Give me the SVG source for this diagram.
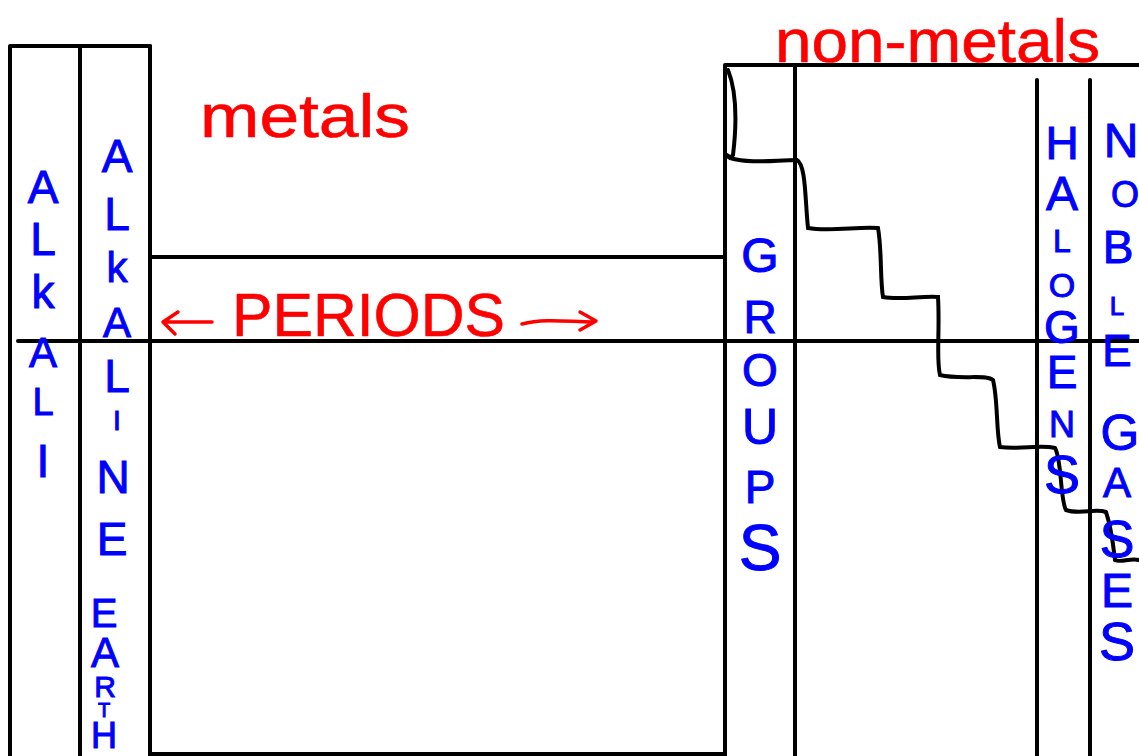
<svg xmlns="http://www.w3.org/2000/svg" width="1139" height="756" viewBox="0 0 1139 756">
<style>
.ln{stroke:#000;stroke-width:4;fill:none;stroke-linecap:round}
.bl{fill:#0000ff;stroke:#0000ff;stroke-width:1;font-family:"Liberation Sans","DejaVu Sans",sans-serif;font-size:46px;text-anchor:middle}
.rd{fill:#ff0000;stroke:#ff0000;stroke-width:0.6;font-family:"Liberation Sans","DejaVu Sans",sans-serif}
.ar{stroke:#ff0000;stroke-width:3.5;fill:none;stroke-linecap:round;stroke-linejoin:round}
</style>
<rect width="1139" height="756" fill="#fff"/>
<g id="grid">
<path class="ln" d="M10 46 H150 M10 46 V756 M80 46 V756"/>
<path class="ln" d="M150 46 V756" stroke-width="5"/>
<path class="ln" d="M150 257 H725 M18 341 H1139 M150 754 H725"/>
<path class="ln" d="M725 65 V756 M725 65 H1139 M795 65 V756 M1037 80 V756 M1090 80 V756"/>
</g>
<g id="connectors">
<path class="ln" stroke-width="3.5" d="M728 70 C738 95 736 130 733 155 C728 162 724 150 730 158 C750 164 775 160 797 160 C806 165 805 200 808 228 C830 232 860 226 878 228 C882 250 880 280 883 297 C900 300 920 296 938 297 C940 330 936 360 940 375 C960 380 985 374 993 380 C998 400 996 430 1000 447 C1020 450 1040 444 1055 448 C1062 460 1060 500 1066 510 C1080 515 1095 508 1106 512 C1112 530 1113 545 1115 560 C1120 563 1130 558 1139 560"/>
</g>
<g id="alkali">
<text class="bl"><tspan x="43" y="203">A</tspan><tspan x="43" y="255">L</tspan><tspan x="43" y="308">k</tspan><tspan x="43" y="367" font-size="42">A</tspan><tspan x="43" y="415" font-size="38">L</tspan><tspan x="43" y="477">I</tspan></text>
</g>
<g id="alkaline-earth">
<text class="bl"><tspan x="117" y="172">A</tspan><tspan x="117" y="230">L</tspan><tspan x="117" y="282" font-size="42">k</tspan><tspan x="117" y="337" font-size="42">A</tspan><tspan x="117" y="392">L</tspan><tspan x="117" y="430" font-size="28">I</tspan><tspan x="113" y="493">N</tspan><tspan x="112" y="555">E</tspan></text>
<text class="bl"><tspan x="104" y="627" font-size="40">E</tspan><tspan x="105" y="667" font-size="42">A</tspan><tspan x="105" y="697" font-size="30">R</tspan><tspan x="104" y="717" font-size="20">T</tspan><tspan x="104" y="748" font-size="36">H</tspan></text>
</g>
<g id="groups">
<text class="bl"><tspan x="760" y="272" font-size="48">G</tspan><tspan x="760" y="333">R</tspan><tspan x="760" y="386">O</tspan><tspan x="760" y="444" font-size="50">U</tspan><tspan x="760" y="503">P</tspan><tspan x="760" y="570" font-size="64">S</tspan></text>
</g>
<g id="halogens">
<text class="bl" font-size="42"><tspan x="1062" y="159">H</tspan><tspan x="1062" y="210" font-size="48">A</tspan><tspan x="1062" y="252" font-size="32">L</tspan><tspan x="1062" y="297" font-size="34">O</tspan><tspan x="1062" y="343">G</tspan><tspan x="1062" y="388">E</tspan><tspan x="1062" y="437" font-size="36">N</tspan><tspan x="1062" y="493" font-size="54">S</tspan></text>
</g>
<g id="noble-gases">
<text class="bl"><tspan x="1121" y="157" font-size="48">N</tspan><tspan x="1125" y="207" font-size="36">O</tspan><tspan x="1118" y="263">B</tspan><tspan x="1117" y="315" font-size="26">L</tspan><tspan x="1117" y="366" font-size="44">E</tspan><tspan x="1120" y="450" font-size="50">G</tspan><tspan x="1117" y="497" font-size="42">A</tspan><tspan x="1117" y="557" font-size="52">S</tspan><tspan x="1117" y="607" font-size="48">E</tspan><tspan x="1117" y="660" font-size="54">S</tspan></text>
</g>
<g id="metals-label">
<text class="rd" x="200" y="137" font-size="62" textLength="210" lengthAdjust="spacingAndGlyphs">metals</text>
</g>
<g id="non-metals-label">
<text class="rd" x="775" y="62" font-size="62" textLength="325" lengthAdjust="spacingAndGlyphs">non-metals</text>
</g>
<g id="periods-label">
<text class="rd" x="232" y="336" font-size="62" textLength="273" lengthAdjust="spacingAndGlyphs">PERIODS</text>
<path class="ar" d="M212 322 H165 M178 312 L163 322 L175 334"/>
<path class="ar" d="M522 324 C545 318 570 322 592 322 M580 312 L596 321 L580 330"/>
</g>
</svg>
